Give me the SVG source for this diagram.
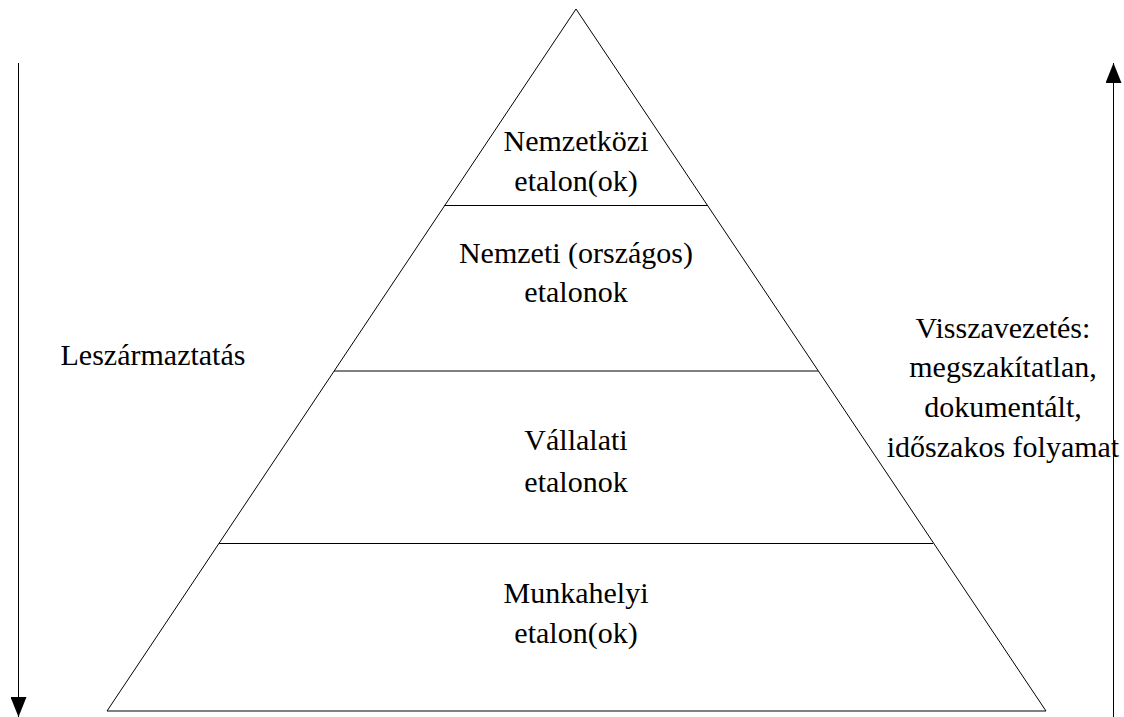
<svg xmlns="http://www.w3.org/2000/svg" width="1124" height="717" viewBox="0 0 1124 717">
<style>
text{font-family:'Liberation Serif','Times New Roman',serif;font-size:30px;fill:#000;text-anchor:middle}
.l{stroke:#000;stroke-width:1;fill:none}
</style>
<defs>
<marker id="ah" viewBox="0 0 20 16" refX="20" refY="8" markerWidth="20" markerHeight="16" markerUnits="userSpaceOnUse" orient="auto">
<path d="M0,0 L20,8 L0,16 Z" fill="#000"/>
</marker>
</defs>
<rect width="1124" height="717" fill="#fff"/>
<g id="pyramid">
<path class="l" d="M576,9 L1046,711 L107,711 Z"/>
<line class="l" x1="444.5" y1="205.5" x2="707.5" y2="205.5"/>
<line class="l" x1="334" y1="371" x2="818" y2="371"/>
<line class="l" x1="219" y1="543.5" x2="933" y2="543.5"/>
</g>
<g id="level1"><text x="576" y="151">Nemzetközi</text><text x="576" y="191">etalon(ok)</text></g>
<g id="level2"><text x="576" y="263">Nemzeti (országos)</text><text x="576" y="302">etalonok</text></g>
<g id="level3"><text x="576" y="450">Vállalati</text><text x="576" y="492">etalonok</text></g>
<g id="level4"><text x="576" y="603">Munkahelyi</text><text x="576" y="643">etalon(ok)</text></g>
<g id="left-label"><text x="153" y="365">Leszármaztatás</text></g>
<g id="right-label">
<text x="1003" y="338">Visszavezetés:</text>
<text x="1003" y="377">megszakítatlan,</text>
<text x="1003" y="417">dokumentált,</text>
<text x="1003" y="457">időszakos folyamat</text>
</g>
<g id="connectors">
<path d="M18.5,63 L18.5,717" stroke="#000" stroke-width="1" marker-end="url(#ah)"/>
<path d="M1113.5,717 L1113.5,63" stroke="#000" stroke-width="1" marker-end="url(#ah)"/>
</g>
</svg>
